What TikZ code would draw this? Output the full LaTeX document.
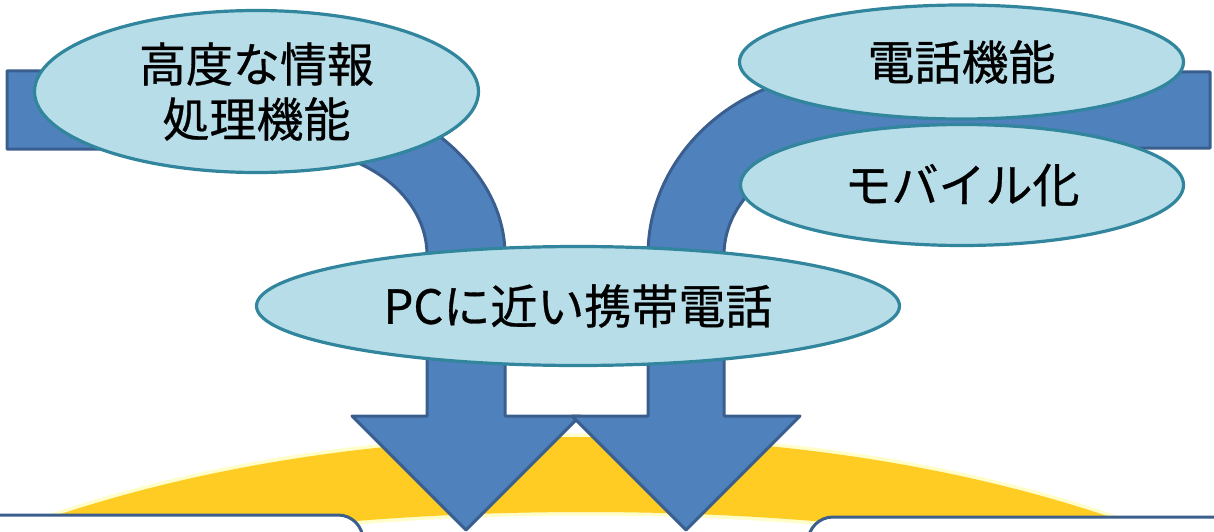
\documentclass[tikz,border=0pt]{standalone}
\usepackage{fontspec}
\usetikzlibrary{shapes.geometric}
\newfontfamily\jpfont[FakeBold=0.6]{Noto Sans CJK JP}
\definecolor{arrowfill}{HTML}{4F81BD}
\definecolor{arrowline}{HTML}{3A5F8E}
\definecolor{ellfill}{HTML}{B7DDE8}
\definecolor{ellline}{HTML}{31859C}
\definecolor{sunfill}{HTML}{FECC22}
\definecolor{sunglow}{HTML}{FFFDC8}
\definecolor{boxline}{HTML}{3B5E8C}
\begin{document}
\begin{tikzpicture}[x=1pt,y=-1pt,
  arrowshape/.style={fill=arrowfill, draw=arrowline, line width=3pt, line join=round},
  ell/.style={ellipse, fill=ellfill, draw=ellline, line width=3.2pt, inner sep=0pt,
    font=\jpfont\fontsize{47pt}{55pt}\selectfont, align=center},
  boxstyle/.style={fill=white, draw=boxline, line width=3pt},
  glow/.style={draw=sunglow, line width=7pt}
]
\useasboundingbox (0,0) rectangle (1214,532);
\begin{scope}
\clip (0,0) rectangle (1214,532);
% yellow arc band
\path[glow] (581,856) ellipse [x radius=900pt, y radius=419pt];
\path[glow] (585,788) ellipse [x radius=900pt, y radius=276pt];
\fill[sunfill, even odd rule] (581,856) ellipse [x radius=900pt, y radius=419pt]
  (585,788) ellipse [x radius=900pt, y radius=276pt];
% bottom boxes
\draw[boxstyle] (-10,515) -- (338,515) arc[start angle=90, end angle=0, radius=25pt]
  -- (363,545) -- (-10,545) -- cycle;
\draw[boxstyle] (1224,517) -- (833,517) arc[start angle=90, end angle=180, radius=25pt]
  -- (808,550) -- (1224,550) -- cycle;
% left bent arrow
\draw[arrowshape] (7,71) -- (228,71)
  arc[start angle=90, end angle=0, x radius=277pt, y radius=184pt]
  -- (505,416) -- (580,416) -- (466,530) -- (352,416) -- (427,416) -- (427,255)
  arc[start angle=0, end angle=90, x radius=137pt, y radius=106pt]
  -- (7,149) -- cycle;
% right bent arrow
\draw[arrowshape] (1210,72) -- (850,72)
  arc[start angle=90, end angle=180, x radius=202pt, y radius=183pt]
  -- (648,416) -- (572,416) -- (686,530) -- (800,416) -- (724,416) -- (724,255)
  arc[start angle=180, end angle=90, x radius=137pt, y radius=107pt]
  -- (1210,148) -- cycle;
% ellipses
\node[ell, minimum width=444pt, minimum height=162pt] (e1) at (256.5,91.5) {高度な情報\\処理機能};
\node[ell, minimum width=444pt, minimum height=114pt] (e2) at (961.5,62) {電話機能};
\node[ell, minimum width=443pt, minimum height=121pt] (e3) at (962,185) {モバイル化};
\node[ell, minimum width=643pt, minimum height=119pt] (e4) at (578,306) {PCに近い携帯電話};
\end{scope}
\end{tikzpicture}
\end{document}
